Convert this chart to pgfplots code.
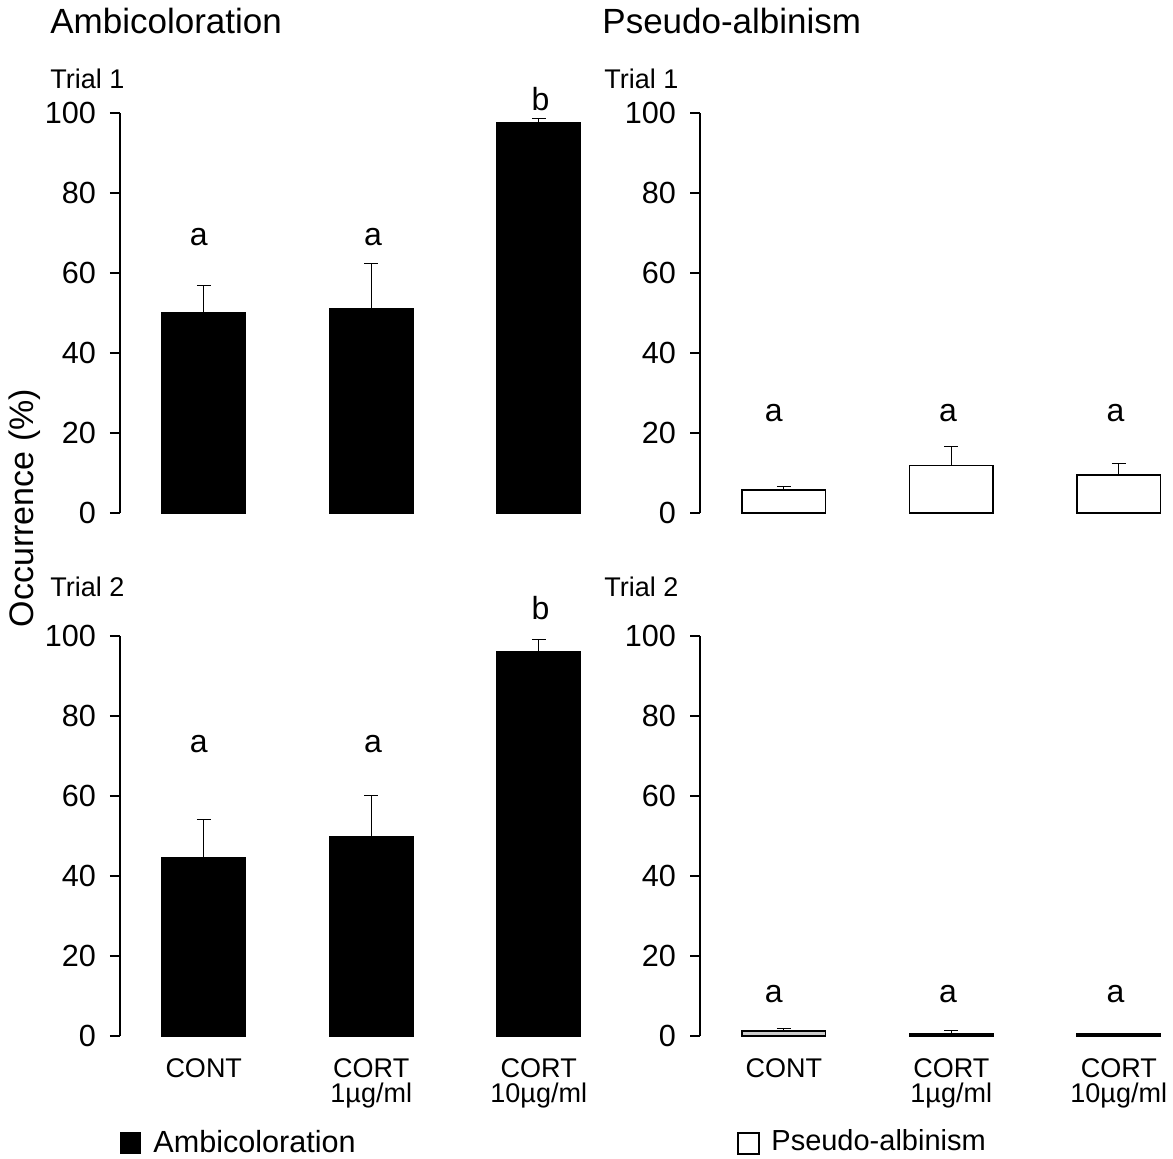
\documentclass[border=0pt]{standalone}
\usepackage{pgfplots}
\pgfplotsset{compat=1.18}
\usepackage{fontspec}
\setmainfont{Liberation Sans}
\newcommand{\fs}[1]{\fontsize{#1}{#1}\selectfont}
\tikzset{xl/.style={font=\fontsize{13.5}{12.5}\selectfont, align=center, anchor=north, inner sep=0pt}}
\pgfplotsset{
  panel/.style={
    scale only axis, width=251.25pt, height=200pt,
    xmin=-0.5, xmax=2.5, ymin=0, ymax=100,
    axis x line=none, axis y line*=left,
    ytick={0,20,...,100},
    tick align=outside, major tick length=5pt,
    axis line style={line width=1pt},
    every tick/.style={line width=1pt, black},
    /pgf/number format/assume math mode=true,
    yticklabel style={font=\fs{15.3}, xshift=-3.5pt},
    clip=false,
  },
  barsty/.style={ybar, bar width=0.5, line width=0.7pt,
    error bars/y dir=plus, error bars/y explicit,
    error bars/error bar style={line width=0.6pt, black},
    error bars/error mark options={rotate=90, line width=0.6pt, mark size=3.5pt, black}},
}
\begin{document}
\begin{tikzpicture}
\useasboundingbox (0,0) rectangle (586.5pt,-579pt);
% top-left
\begin{axis}[panel, at={(60pt,-256.5pt)}, anchor=south west]
\addplot[barsty, fill=black, draw=black] coordinates {(0,50.2) +- (0,6.6) (1,51.1) +- (0,11.3) (2,97.7) +- (0,0.9)};
\node[font=\fs{16}] at (axis cs:-0.03,69) {a};
\node[font=\fs{16}] at (axis cs:1.01,69) {a};
\node[font=\fs{16}] at (axis cs:2.01,103.5) {b};
\end{axis}
% top-right
\begin{axis}[panel, at={(350pt,-256.5pt)}, anchor=south west]
\addplot[barsty, fill=white, draw=black] coordinates {(0,5.8) +- (0,0.8) (1,11.9) +- (0,4.7) (2,9.5) +- (0,2.9)};
\node[font=\fs{16}] at (axis cs:-0.06,25) {a};
\node[font=\fs{16}] at (axis cs:0.98,25) {a};
\node[font=\fs{16}] at (axis cs:1.98,25) {a};
\end{axis}
% bottom-left
\begin{axis}[panel, at={(60pt,-518pt)}, anchor=south west]
\addplot[barsty, fill=black, draw=black] coordinates {(0,44.6) +- (0,9.5) (1,49.8) +- (0,10.4) (2,96.1) +- (0,3.0)};
\node[font=\fs{16}] at (axis cs:-0.03,73) {a};
\node[font=\fs{16}] at (axis cs:1.01,73) {a};
\node[font=\fs{16}] at (axis cs:2.01,107) {b};
\node[xl] at (axis cs:0,-5.5) {CONT};
\node[xl] at (axis cs:1,-5.5) {CORT\\1µg/ml};
\node[xl] at (axis cs:2,-5.5) {CORT\\10µg/ml};
\end{axis}
% bottom-right
\begin{axis}[panel, at={(350pt,-518pt)}, anchor=south west]
\addplot[barsty, fill=white!80!black, draw=black] coordinates {(0,1.3) +- (0,0.6)};
\addplot[barsty, fill=black, draw=black] coordinates {(1,0.7) +- (0,0.6) (2,0.7) +- (0,0)};
\node[font=\fs{16}] at (axis cs:-0.06,10.5) {a};
\node[font=\fs{16}] at (axis cs:0.98,10.5) {a};
\node[font=\fs{16}] at (axis cs:1.98,10.5) {a};
\node[xl] at (axis cs:0,-5.5) {CONT};
\node[xl] at (axis cs:1,-5.5) {CORT\\1µg/ml};
\node[xl] at (axis cs:2,-5.5) {CORT\\10µg/ml};
\end{axis}
% titles
\node[anchor=base west, inner sep=0pt, font=\fs{17.5}] at (25pt,-16.5pt) {Ambicoloration};
\node[anchor=base west, inner sep=0pt, font=\fs{17.5}] at (301pt,-16.5pt) {Pseudo-albinism};
\node[anchor=base west, inner sep=0pt, font=\fs{13.5}] at (25pt,-44pt) {Trial 1};
\node[anchor=base west, inner sep=0pt, font=\fs{13.5}] at (302pt,-44pt) {Trial 1};
\node[anchor=base west, inner sep=0pt, font=\fs{13.5}] at (25pt,-298pt) {Trial 2};
\node[anchor=base west, inner sep=0pt, font=\fs{13.5}] at (302pt,-298pt) {Trial 2};
\node[rotate=90, inner sep=0pt, font=\fs{17}] at (12.5pt,-254pt) {Occurrence (\%)};
% legend
\fill[black] (60pt,-566pt) rectangle (70.5pt,-577pt);
\node[anchor=base west, inner sep=0pt, font=\fs{15.3}] at (76.5pt,-576pt) {Ambicoloration};
\draw[line width=1pt] (369pt,-566.5pt) rectangle (379.5pt,-577pt);
\node[anchor=base west, inner sep=0pt, font=\fs{14.5}] at (385.5pt,-575pt) {Pseudo-albinism};
\end{tikzpicture}
\end{document}
